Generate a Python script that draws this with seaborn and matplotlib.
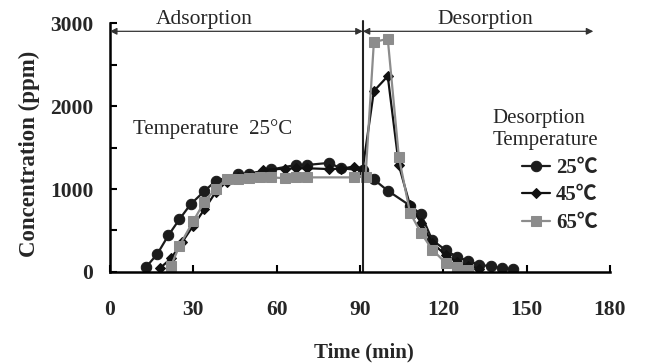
import pandas as pd
import matplotlib
matplotlib.use('Agg')
import matplotlib.pyplot as plt
import seaborn as sns
from matplotlib.ticker import MultipleLocator

## Data (time in min, concentration in ppm)
t_25 = [13, 17, 21, 25, 29, 34, 38, 46, 50, 58, 67, 71, 79, 83, 91, 95, 100,
        108, 112, 116, 121, 125, 129, 133, 137, 141, 145]
c_25 = [60, 215, 440, 635, 815, 975, 1095, 1180, 1185, 1235, 1290, 1290, 1315,
        1250, 1225, 1115, 980, 800, 695, 385, 260, 180, 135, 85, 70, 45, 35]

t_45 = [18, 22, 26, 30, 34, 38, 42, 46, 50, 55, 63, 67, 71, 79, 83, 88, 91,
        95, 100, 104, 108, 112, 116, 121, 125, 129, 133]
c_45 = [45, 165, 360, 560, 755, 960, 1090, 1140, 1160, 1230, 1245, 1250, 1250,
        1240, 1245, 1270, 1245, 2180, 2360, 1285, 805, 595, 350, 200, 120, 70, 40]

t_65 = [22, 25, 30, 34, 38, 42, 46, 50, 54, 58, 63, 67, 71, 88, 92,
        95, 100, 104, 108, 112, 116, 121, 125, 129]
c_65 = [75, 315, 615, 845, 1000, 1120, 1120, 1130, 1140, 1140, 1130, 1140, 1140,
        1140, 1150, 2770, 2810, 1385, 715, 470, 270, 105, 65, 25]

temps = ['25℃', '45℃', '65℃']
colors = ['#1c1c1c', '#111111', '#8c8c8c']
markers = ['o', 'D', 's']
msizes = [7.5, 5, 6.5]

switch_time = 91      # adsorption -> desorption
arrow_level = 2900
adsorption_end = 91
desorption_end = 174

df = pd.concat([
    pd.DataFrame({'Time': t_25, 'Conc': c_25, 'Temp': temps[0]}),
    pd.DataFrame({'Time': t_45, 'Conc': c_45, 'Temp': temps[1]}),
    pd.DataFrame({'Time': t_65, 'Conc': c_65, 'Temp': temps[2]}),
])

sns.set_style('ticks')
plt.rcParams['font.family'] = ['Liberation Serif', 'Noto Sans CJK SC', 'DejaVu Sans']

fig, ax = plt.subplots(figsize=(6.45, 3.63), dpi=100)
fig.subplots_adjust(left=0.1705, right=0.9457, bottom=0.2507, top=0.9366)

for temp, col, mk, ms in zip(temps, colors, markers, msizes):
    sns.lineplot(data=df[df['Temp'] == temp], x='Time', y='Conc', color=col,
                 marker=mk, markersize=ms, markeredgecolor=col, linewidth=1.6,
                 label=temp, ax=ax)

ax.set_xlim(0, 180)
ax.set_ylim(0, 3000)
ax.xaxis.set_major_locator(MultipleLocator(30))
ax.yaxis.set_major_locator(MultipleLocator(1000))
ax.yaxis.set_minor_locator(MultipleLocator(500))

for s in ['top', 'right']:
    ax.spines[s].set_visible(False)
for s in ['left', 'bottom']:
    ax.spines[s].set_linewidth(1.8)
    ax.spines[s].set_color('black')

ax.tick_params(axis='both', which='both', direction='in', length=5, width=1.5, color='black')
ax.tick_params(axis='x', pad=20, labelsize=15.5)
ax.tick_params(axis='y', pad=12, labelsize=15.5)
for lbl in ax.get_xticklabels() + ax.get_yticklabels():
    lbl.set_fontweight('bold')

ax.set_xlabel('Time (min)', fontsize=15, fontweight='bold')
ax.set_ylabel('Concentration (ppm)', fontsize=16.5, fontweight='bold')
ax.xaxis.set_label_coords(0.508, -0.283)
ax.yaxis.set_label_coords(-0.14, 0.475)

# switch line and phase arrows
ax.axvline(switch_time, ymin=0, ymax=1.01, color='#222222', lw=1.5, clip_on=False)
ax.annotate('', xy=(0, arrow_level), xytext=(adsorption_end, arrow_level),
            arrowprops=dict(arrowstyle='<|-|>', color='#333333', lw=0.9,
                            shrinkA=0, shrinkB=0, mutation_scale=10))
ax.annotate('', xy=(switch_time, arrow_level), xytext=(desorption_end, arrow_level),
            arrowprops=dict(arrowstyle='<|-|>', color='#333333', lw=0.9,
                            shrinkA=0, shrinkB=0, mutation_scale=10))
ax.text(34, 3040, 'Adsorption', ha='center', va='center', fontsize=15.5)
ax.text(135, 3040, 'Desorption', ha='center', va='center', fontsize=15.5)

ax.text(8.3, 1720, 'Temperature  25°C', ha='left', va='center', fontsize=15)
ax.text(137.6, 1720, 'Desorption\nTemperature', ha='left', va='center',
        fontsize=15, linespacing=1.2)

handles, labels = ax.get_legend_handles_labels()
ax.legend(handles, labels, loc='upper left', bbox_to_anchor=(0.809, 0.565),
          bbox_transform=fig.transFigure, frameon=False,
          prop=dict(weight='bold', size=15), handlelength=1.35,
          handletextpad=0.3, labelspacing=0.36, borderpad=0, borderaxespad=0)

ax.grid(False)
plt.savefig('out.png', dpi=100)
